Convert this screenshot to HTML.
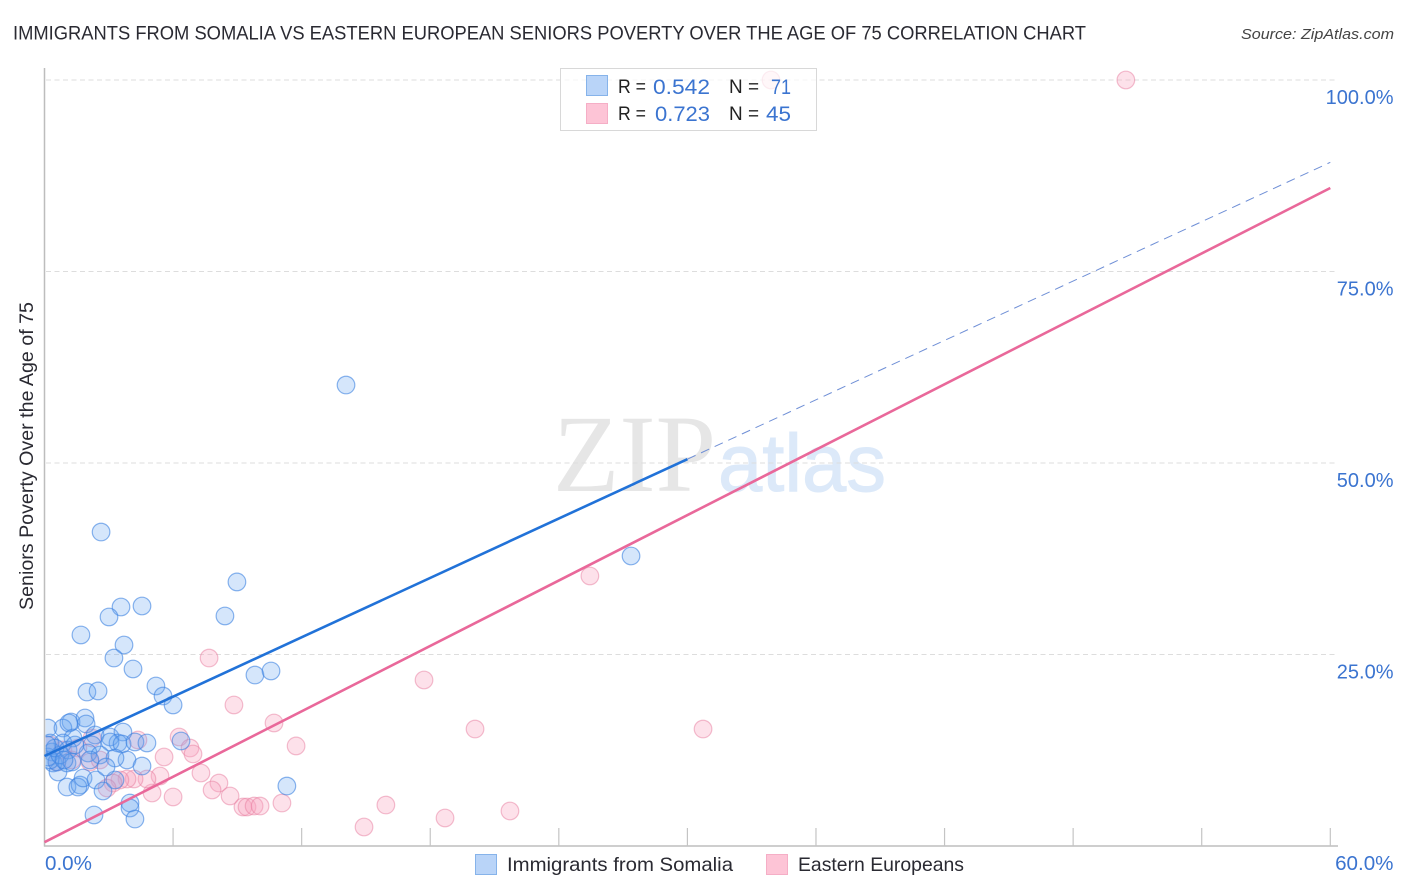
<!DOCTYPE html>
<html lang="en">
<head>
<meta charset="utf-8">
<title>Immigrants from Somalia vs Eastern European Seniors Poverty Correlation Chart</title>
<style>
html,body{margin:0;padding:0;background:#fff;width:1406px;height:892px;overflow:hidden}
svg{display:block}
text{font-family:"Liberation Sans",sans-serif}
</style>
</head>
<body>
<svg id="chart" xmlns="http://www.w3.org/2000/svg" width="1406" height="892" viewBox="0 0 1406 892">
  <defs>
    <clipPath id="plot-clip"><rect x="45.5" y="60" width="1300" height="786"/></clipPath>
  </defs>
  <text x="13" y="39.5" font-size="19.5" fill="#2a2a32" textLength="1073" lengthAdjust="spacingAndGlyphs">IMMIGRANTS FROM SOMALIA VS EASTERN EUROPEAN SENIORS POVERTY OVER THE AGE OF 75 CORRELATION CHART</text>
  <text x="1241" y="39" font-size="15" font-style="italic" fill="#444" textLength="153" lengthAdjust="spacingAndGlyphs">Source: ZipAtlas.com</text>
  <g id="watermark">
    <text x="553" y="491" font-size="110" fill="#e6e6e6" textLength="163" lengthAdjust="spacingAndGlyphs" style="font-family:'Liberation Serif',serif">ZIP</text>
    <text x="718" y="491" font-size="82" fill="#dce9f9" stroke="#dce9f9" stroke-width="1" textLength="168" lengthAdjust="spacingAndGlyphs">atlas</text>
  </g>
  <g id="grid"></g>
  <g id="axes"></g>
  <g clip-path="url(#plot-clip)">
    <g id="pink-points"></g>
    <g id="blue-points"></g>
  </g>
  <g id="trends"></g>
  <g id="tick-labels"></g>
  <text transform="translate(33,610) rotate(-90)" x="0" y="0" font-size="19" fill="#2a2a32" textLength="308" lengthAdjust="spacingAndGlyphs">Seniors Poverty Over the Age of 75</text>

  <g>
    <rect x="560.5" y="68.5" width="256" height="62" fill="#fff" fill-opacity="0.72" stroke="#d8d8d8"/>
    <rect x="586.5" y="75.5" width="21" height="20" fill="#b9d4f8" stroke="#86b3ea"/>
    <rect x="586.5" y="103.5" width="21" height="20" fill="#fdc4d6" stroke="#f5aec6"/>
    <text x="618" y="93" font-size="19.5" fill="#222" textLength="28" lengthAdjust="spacingAndGlyphs">R =</text>
    <text x="653" y="94" font-size="21" fill="#3b74d0" textLength="57" lengthAdjust="spacingAndGlyphs">0.542</text>
    <text x="729" y="93" font-size="19.5" fill="#222" textLength="30" lengthAdjust="spacingAndGlyphs">N =</text>
    <text x="771" y="94" font-size="21" fill="#3b74d0" textLength="20" lengthAdjust="spacingAndGlyphs">71</text>
    <text x="618" y="120" font-size="19.5" fill="#222" textLength="28" lengthAdjust="spacingAndGlyphs">R =</text>
    <text x="655" y="121" font-size="21" fill="#3b74d0" textLength="55" lengthAdjust="spacingAndGlyphs">0.723</text>
    <text x="729" y="120" font-size="19.5" fill="#222" textLength="30" lengthAdjust="spacingAndGlyphs">N =</text>
    <text x="766" y="121" font-size="21" fill="#3b74d0" textLength="25" lengthAdjust="spacingAndGlyphs">45</text>
  </g>

  <g>
    <rect x="475.5" y="854.5" width="21" height="20" fill="#b9d4f8" stroke="#86b3ea"/>
    <text x="507" y="871" font-size="19.5" fill="#2a2a32" textLength="226" lengthAdjust="spacingAndGlyphs">Immigrants from Somalia</text>
    <rect x="766.5" y="854.5" width="21" height="20" fill="#fdc4d6" stroke="#f5aec6"/>
    <text x="798" y="871" font-size="19.5" fill="#2a2a32" textLength="166" lengthAdjust="spacingAndGlyphs">Eastern Europeans</text>
  </g>
</svg>
<script>
// Series values: percent on each axis
const somaliaX = [14.07,2.64,27.37,8.98,4.55,3.57,3.01,8.42,1.70,3.71,3.24,4.13,9.82,10.57,5.20,5.53,6.00,1.98,2.50,11.31,3.99,3.99,4.22,2.31,0.16,1.24,1.89,1.94,0.86,1.14,2.36,1.33,3.06,3.66,3.43,3.06,3.62,4.22,4.78,2.22,2.03,2.59,3.85,3.29,4.55,2.12,0.86,0.26,0.35,0.40,0.63,1.05,1.66,1.56,1.80,2.40,2.73,3.29,2.87,0.58,1.05,0.26,0.16,6.37,0.72,0.49,1.10,1.28,0.12,0.91,1.42];
const somaliaY = [60.18,40.99,37.86,34.47,31.33,31.20,29.90,30.03,27.55,26.24,24.54,23.11,22.32,22.85,20.89,19.58,18.41,20.10,20.24,7.83,5.61,4.96,3.52,4.05,15.40,16.19,16.71,15.93,15.40,16.06,14.49,14.10,14.23,14.88,13.45,13.58,13.32,13.58,13.45,13.19,12.14,11.88,11.23,11.49,10.44,11.23,13.45,13.45,12.27,10.84,9.66,7.70,7.96,7.70,8.88,8.62,7.18,8.62,10.31,10.97,10.84,11.23,11.62,13.71,11.88,12.79,12.53,10.97,13.19,11.23,13.19];
const easternX = [7.68,8.84,10.71,11.74,6.28,4.36,6.79,6.93,5.58,7.30,5.39,8.14,7.82,8.66,5.02,6.00,9.26,9.45,9.78,10.06,11.08,4.78,4.18,3.85,3.52,3.20,2.92,25.45,17.71,20.09,30.73,14.91,18.69,15.93,21.72,50.46,33.90,0.26,0.58,0.86,2.22,1.28,2.12,2.59,1.56];
const easternY = [24.54,18.41,16.06,13.06,14.23,13.84,12.79,12.01,11.62,9.53,9.14,8.22,7.31,6.53,6.92,6.40,5.09,5.09,5.22,5.22,5.61,8.75,8.75,8.75,8.62,8.22,7.57,35.25,21.67,15.27,15.27,2.48,3.66,5.35,4.57,100,100,13.19,10.97,12.53,14.10,11.23,10.97,11.23,12.79];
// Trend fits: y = intercept + slope * x
const somaliaTrend = [11.75, 1.2917];
const easternTrend = [0.5, 1.4233];
const yTickValues = [25, 50, 75, 100];
const yTickLabels = ["25.0%", "50.0%", "75.0%", "100.0%"];
const xTickValues = [6, 12, 18, 24, 30, 36, 42, 48, 54, 60];
const xEndValues = [0, 60];
const xEndLabels = ["0.0%", "60.0%"];

const NS = 'http://www.w3.org/2000/svg';
const xScale = v => 44.5 + v * 21.43;
const yScale = v => 846 - v * 7.66;
function make(tag, attrs, parent, txt) {
  const el = document.createElementNS(NS, tag);
  for (const k in attrs) el.setAttribute(k, attrs[k]);
  if (txt !== undefined) el.textContent = txt;
  document.getElementById(parent).appendChild(el);
  return el;
}

yTickValues.forEach((v, i) => {
  const g = make('line', {x1: 46, x2: 1338, y1: yScale(v), y2: yScale(v), stroke: '#dddddd', 'stroke-width': 1, 'stroke-dasharray': '5 3.5'}, 'grid');
  
  
  const t = make('text', {x: 1393.5, y: yScale(v) + 24, 'text-anchor': 'end', 'font-size': 20, fill: '#3b74d0'}, 'tick-labels', yTickLabels[i]);
  
  
});

const yAxis = make('line', {x1: 44.5, x2: 44.5, y1: 68, y2: 846.5, stroke: '#bdbdbd', 'stroke-width': 1.5}, 'axes');


const xAxis = make('line', {x1: 44, x2: 1338, y1: 846, y2: 846, stroke: '#bdbdbd', 'stroke-width': 1.5}, 'axes');


xTickValues.forEach(v => {
  const tk = make('line', {x1: xScale(v), x2: xScale(v), y1: 828, y2: 846, stroke: '#c4c4c4', 'stroke-width': 1.2}, 'axes');
  
  
});
xEndValues.forEach((v, i) => {
  const px = i === 0 ? xScale(v) + 0.5 : 1393.5;
  const t = make('text', {x: px, y: 870, 'text-anchor': i === 0 ? 'start' : 'end', 'font-size': 20.6, fill: '#3b74d0'}, 'tick-labels', xEndLabels[i]);
  
  
});

easternX.forEach((v, i) => {
  const c = make('circle', {cx: xScale(v), cy: yScale(easternY[i]), r: 8.8, fill: 'rgba(250,165,190,0.33)', stroke: 'rgba(232,125,160,0.5)', 'stroke-width': 1.2}, 'pink-points');
  
  
});
somaliaX.forEach((v, i) => {
  const c = make('circle', {cx: xScale(v), cy: yScale(somaliaY[i]), r: 8.8, fill: 'rgba(105,165,240,0.28)', stroke: 'rgba(60,130,225,0.6)', 'stroke-width': 1.2}, 'blue-points');
  
  
});

const fit = (t, x) => t[0] + t[1] * x;
const blueSolid = make('line', {x1: xScale(0), y1: yScale(fit(somaliaTrend, 0)), x2: xScale(30), y2: yScale(fit(somaliaTrend, 30)), stroke: '#2172d8', 'stroke-width': 2.6}, 'trends');


const blueDash = make('line', {x1: xScale(30), y1: yScale(fit(somaliaTrend, 30)), x2: xScale(60), y2: yScale(fit(somaliaTrend, 60)), stroke: '#6f8fd6', 'stroke-width': 1, 'stroke-dasharray': '9 6'}, 'trends');


const pinkSolid = make('line', {x1: xScale(0), y1: yScale(fit(easternTrend, 0)), x2: xScale(60), y2: yScale(fit(easternTrend, 60)), stroke: '#e9689a', 'stroke-width': 2.6}, 'trends');


</script>
</body>
</html>
